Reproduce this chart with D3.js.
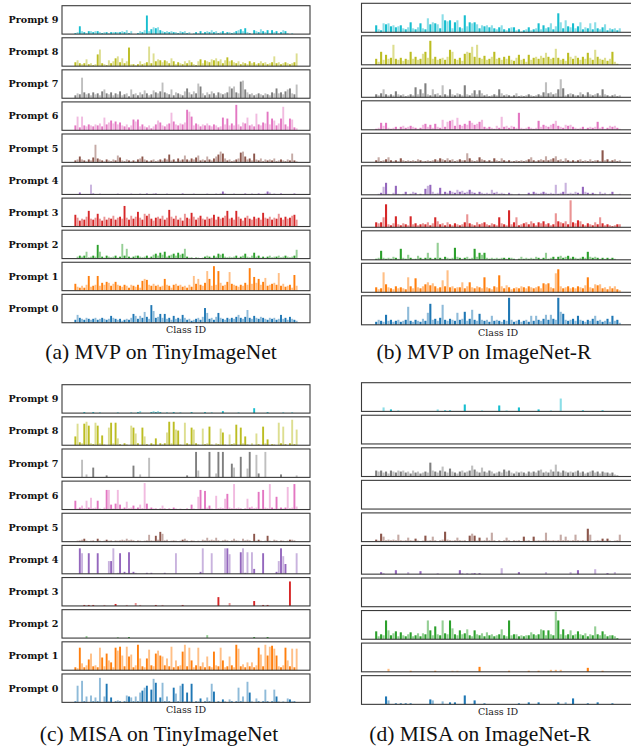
<!DOCTYPE html>
<html>
<head>
<meta charset="utf-8">
<script src="https://cdn.jsdelivr.net/npm/d3@7"></script>
<style>
  body { margin: 0; background: #fff; }
</style>
</head>
<body>
<div id="chart"></div>
<script>
// number of class bins per row
const N = 100;
const prompts = d3.range(10);

function sparse(pairs) {
    const v = new Array(N).fill(0);
    pairs.forEach(([i, h]) => { v[i] = h; });
    return v;
}

// (a) MVP on TinyImageNet, one array per prompt
const a0 = [3,8,5,4,3,5,4,3,4,5, 3,4,5,4,3,4,7,5,4,3, 4,2,3,4,3,5,9,7,4,7, 5,11,6,4,18,12,5,6,9,5, 9,4,5,3,7,4,5,4,8,5, 3,4,2,3,4,5,3,6,15,10, 4,5,3,6,10,5,4,3,5,4, 5,4,6,8,5,4,6,13,5,4, 7,5,4,6,5,4,3,5,4,5, 3,4,8,4,5,3,6,4,3,2];
const a1 = [7,4,3,5,3,6,15,4,5,6, 15,5,8,6,9,8,5,7,9,6, 5,4,6,5,3,6,5,4,6,3, 10,12,11,6,5,7,5,6,4,5, 12,6,5,3,6,7,5,6,4,5, 3,6,4,15,7,12,6,5,8,20, 12,5,25,6,20,8,5,6,9,19, 7,6,5,4,6,5,8,6,23,7, 14,8,12,6,9,13,5,6,7,8, 6,18,5,7,4,5,6,3,16,5];
const a2 = [0,2,3,2,3,7,1,2,3,2, 14,7,2,1,3,2,1,2,3,1, 2,15,3,10,2,1,2,3,3,2, 1,2,3,1,2,4,5,3,6,4, 7,2,3,4,5,3,6,4,5,10, 2,1,1,0,1,1,0,1,2,3, 2,1,3,2,5,4,5,2,1,2, 1,2,3,1,2,3,5,2,1,3, 6,2,3,1,2,1,2,3,1,2, 2,3,1,2,3,2,1,2,3,9];
const a3 = [12,9,6,8,7,10,16,8,7,9, 13,8,6,10,7,9,8,11,7,9, 10,8,21,9,7,11,8,10,15,9, 7,13,11,13,8,6,9,10,8,11, 7,9,17,10,8,11,7,9,6,13, 9,8,14,10,7,9,11,8,7,10, 8,9,12,7,10,8,9,11,16,8, 9,7,16,10,8,6,9,11,8,7, 10,8,9,7,14,9,8,10,7,9, 8,13,9,7,10,8,9,11,12,7];
const a4 = sparse([[2,2],[7,10],[8,1],[11,1],[19,1],[25,1],[29,1],[32,1],[35,1],[36,1],[41,1],[48,1],[53,1],[59,1],[63,1],[65,1],[66,3],[67,1],[71,1],[76,1],[79,1],[82,1],[85,1],[86,3],[87,2],[89,1],[92,1],[98,1]]);
const a5 = [2,3,6,3,2,1,3,2,5,18, 4,3,2,1,3,2,1,3,2,7, 5,2,1,3,2,1,2,1,3,4, 6,3,2,1,2,3,1,2,3,2, 4,3,8,2,3,1,4,2,3,7, 3,2,4,3,5,7,2,3,2,6, 3,2,4,6,8,11,9,4,2,3, 1,2,3,4,10,11,6,3,4,2, 9,3,2,4,1,3,2,3,2,4, 1,2,3,2,1,3,2,9,2,1];
const a6 = [5,14,3,14,5,4,6,5,4,6, 5,7,4,13,6,8,10,7,9,6, 8,5,4,6,3,5,11,9,11,4, 6,4,3,5,2,4,6,10,8,5, 4,6,7,18,9,6,5,7,6,8, 21,19,14,5,7,6,4,6,5,7, 5,4,6,5,3,4,13,6,12,5, 7,5,26,6,4,8,7,13,5,6, 4,17,6,5,8,7,19,6,12,10, 5,7,12,24,6,4,12,11,3,2];
const a7 = [3,5,4,21,6,4,5,3,6,4, 5,3,7,9,5,4,6,3,5,4, 7,3,4,5,2,9,4,5,3,6, 4,8,5,3,4,8,6,5,7,16, 6,5,4,9,3,6,5,4,3,7, 10,6,4,7,5,15,12,5,3,6, 4,7,5,3,6,5,4,5,6,12, 10,12,6,5,17,18,9,6,4,5, 3,4,5,4,3,5,4,3,6,5, 10,5,6,4,7,9,10,5,4,14];
const a8 = [4,6,3,2,3,7,2,3,1,2, 12,17,3,2,1,6,3,5,8,10, 4,8,3,5,19,2,2,1,2,5, 2,3,4,20,3,13,5,7,6,4, 6,5,3,8,5,2,4,3,2,5, 3,6,4,2,1,5,7,3,6,5, 4,7,6,8,5,7,3,6,9,5, 6,4,3,5,2,4,3,2,5,3, 4,2,3,5,3,4,2,3,4,10, 3,4,2,3,4,3,2,3,4,13];
const a9 = [1,2,8,3,2,1,3,3,2,3, 3,2,1,2,2,1,2,2,2,2, 2,3,2,4,1,3,0,0,1,3, 2,4,19,3,5,7,6,7,4,3, 2,3,2,3,2,2,1,3,2,3, 1,2,0,1,2,1,3,1,2,3, 2,4,2,3,1,2,3,1,2,2, 1,2,3,4,5,3,6,2,1,0, 4,3,2,5,3,2,4,1,4,2, 3,1,2,4,3,1,0,1,0,0];

// (b) MVP on ImageNet-R
const b0 = [3,5,4,3,10,4,5,3,4,5, 3,4,5,18,4,3,5,4,3,6, 4,12,21,5,6,4,7,20,5,4, 6,5,4,12,5,6,13,4,6,15, 5,4,11,5,4,5,3,9,4,5, 4,3,5,4,27,5,3,4,5,3, 4,5,3,9,4,9,5,4,6,10, 5,10,6,5,27,13,11,5,4,5, 6,4,9,5,4,3,5,4,6,9, 4,5,3,4,6,3,9,4,5,2];
const b1 = [5,3,4,20,8,5,4,3,6,4, 5,4,3,15,6,4,14,5,4,6, 8,10,7,9,6,4,5,12,6,22, 5,6,4,5,5,10,4,6,10,5, 4,6,5,4,15,5,4,3,6,5, 17,6,4,7,5,3,4,5,4,6, 5,4,6,5,4,5,6,4,9,8, 9,5,4,19,23,6,4,5,6,4, 5,4,6,5,4,7,15,5,4,8, 7,8,4,5,3,6,4,6,3,2];
const b2 = [1,2,9,2,1,2,1,3,2,1, 11,2,1,5,2,1,1,4,2,1, 2,7,2,1,2,17,2,1,3,2, 1,2,12,3,2,1,2,3,1,2, 11,3,7,5,7,2,1,2,1,2, 1,2,2,1,2,2,1,0,1,3, 1,2,1,2,1,3,2,1,2,7, 1,2,3,1,3,4,2,3,4,2, 3,2,1,2,3,2,8,3,2,3, 2,1,2,1,2,1,2,1,0,0];
const b3 = [5,4,5,10,23,3,2,4,11,3, 2,4,3,2,11,3,4,2,3,4, 3,5,2,4,10,6,3,4,2,5, 3,2,4,3,2,3,5,13,4,3, 2,5,3,4,5,3,2,4,3,2, 10,4,3,2,17,3,5,10,2,3, 4,5,3,6,4,2,5,4,6,3, 4,2,3,14,6,5,4,6,3,27, 5,4,7,6,3,2,4,3,2,5, 3,10,4,2,3,2,1,2,3,3];
const b4 = [0,1,2,8,12,1,0,2,9,1, 0,1,3,0,1,3,2,0,1,0, 6,9,10,3,1,2,7,1,3,2, 4,3,2,5,3,4,2,3,5,3, 2,1,3,2,1,2,1,5,2,3, 1,2,1,0,2,1,0,0,1,0, 0,0,2,1,3,2,1,2,3,2, 1,2,1,10,1,2,3,12,1,2, 1,3,2,1,8,3,2,1,2,1, 0,3,1,2,0,1,3,0,0,1];
const b5 = [2,5,1,2,3,5,2,1,2,1, 4,2,1,2,1,2,1,3,2,1, 1,2,1,2,3,2,4,3,2,4, 2,3,1,2,3,2,2,9,4,2, 1,2,5,3,2,1,2,1,4,2, 1,4,2,1,2,1,1,2,1,2, 1,2,3,5,2,1,2,3,2,6, 2,3,4,6,2,3,1,4,2,1, 2,1,2,3,1,2,1,3,1,2, 2,1,12,2,3,1,2,3,1,2];
const b6 = [1,2,7,4,7,2,1,2,3,1, 3,4,2,3,4,3,2,1,2,5, 6,3,5,2,6,3,2,10,3,8, 9,10,4,12,5,4,6,5,9,7, 5,6,8,10,3,2,3,2,1,4, 2,13,3,4,2,4,3,2,17,2, 1,2,3,2,1,2,9,3,5,4, 3,5,6,9,4,3,2,5,4,5, 3,2,1,2,3,1,2,3,2,3, 8,2,3,1,2,4,3,4,2,1];
const b7 = [3,2,4,8,3,2,3,2,6,3, 2,3,1,2,3,2,10,3,8,4, 14,3,2,8,3,4,2,12,3,2, 8,3,2,4,3,2,12,3,2,4, 7,3,7,4,2,3,1,2,3,2, 8,4,2,3,2,1,2,4,1,2, 1,2,3,2,1,2,3,2,5,15, 4,5,3,4,8,18,9,2,3,4, 3,2,2,5,3,2,5,3,2,3, 4,2,8,3,2,1,2,3,1,2];
const b8 = [6,3,13,5,10,6,7,20,6,5, 7,4,6,5,13,6,8,5,6,11, 13,7,24,6,8,5,6,7,5,8, 15,13,6,5,7,4,11,13,12,18, 8,20,7,6,9,5,6,8,13,6, 7,5,8,6,9,5,4,7,10,5, 6,3,10,5,7,8,6,9,7,12, 8,6,7,16,7,5,6,4,12,8, 6,9,7,5,8,6,12,7,5,15, 8,6,5,7,4,6,13,3,1,0];
const b9 = [7,3,2,9,8,9,6,7,5,6, 7,4,3,5,10,4,3,5,9,4, 3,14,8,10,9,8,4,18,12,11, 12,4,10,12,5,4,17,6,10,9, 10,8,4,7,6,7,5,7,4,3, 5,7,3,2,4,5,5,2,3,1, 2,3,5,2,3,4,9,3,7,4, 5,9,3,6,19,10,4,12,6,5, 9,4,6,10,3,5,4,9,3,10, 4,3,5,8,2,4,3,4,2,4];

// (c) MISA on TinyImageNet
const c0 = [1,17,0,22,1,6,0,7,1,5, 1,25,0,6,19,1,5,0,1,2, 1,0,1,7,6,5,1,6,1,10, 12,15,17,1,13,24,20,1,5,20, 1,6,1,0,15,9,1,17,19,1, 10,1,19,0,1,1,4,0,1,5, 1,19,11,0,1,0,3,1,0,3, 1,0,1,15,1,6,0,21,10,1, 0,4,1,0,1,13,1,0,1,13, 6,1,0,1,0,4,3,1,1,0];
const c1 = [3,2,23,7,3,5,11,17,4,5, 3,23,13,4,17,10,8,3,23,20, 24,15,4,24,14,16,3,5,26,12, 4,3,12,21,5,4,17,20,15,14, 5,12,4,24,3,10,4,5,19,26, 4,23,10,3,5,23,4,8,3,14, 4,3,19,5,4,23,10,3,4,14, 5,3,26,22,4,6,3,8,4,8, 3,5,23,16,4,26,15,24,25,22, 15,4,3,5,23,10,4,22,3,22];
const c2 = sparse([[5,2],[19,1],[24,1],[59,3],[80,1],[86,1]]);
const c3 = sparse([[4,1],[6,1],[8,1],[13,1],[18,2],[23,1],[27,3],[29,1],[36,1],[39,1],[48,1],[64,9],[69,3],[80,5],[84,1],[86,1],[96,25]]);
const c4 = [0,0,26,21,0,0,21,0,0,0, 21,0,0,0,0,13,13,26,0,1, 21,1,2,1,22,1,2,1,0,0, 0,0,1,0,1,0,0,0,0,0, 1,0,0,0,0,21,0,0,0,0, 0,0,0,0,0,0,2,26,0,0, 0,21,0,0,0,0,0,26,26,20, 0,0,0,0,22,26,1,22,0,22, 5,0,0,0,21,0,0,0,0,0, 2,13,26,18,10,0,0,0,0,21];
const c5 = [0,1,1,2,3,1,0,1,1,0, 3,1,0,1,2,1,1,0,1,1, 1,2,1,3,1,2,1,0,1,1, 0,1,1,7,1,1,6,2,10,8, 1,2,0,1,1,1,0,1,2,3, 1,0,1,1,0,1,0,2,1,4, 1,2,1,4,1,0,1,2,1,0, 1,3,1,1,0,3,1,2,1,0, 8,1,2,1,0,1,6,1,0,2, 1,0,1,1,0,1,2,2,1,0];
const c6 = [9,1,2,4,1,9,2,12,1,2, 9,1,0,2,20,20,5,1,6,20, 5,1,2,8,1,2,4,1,2,5, 1,27,6,1,2,1,1,0,1,4, 1,0,1,0,2,1,0,1,0,0, 1,0,5,1,0,13,20,1,19,2, 4,1,0,14,1,2,1,11,16,2, 1,26,1,2,1,0,1,11,2,3, 1,2,18,1,20,2,1,26,2,1, 13,1,2,1,2,23,1,2,26,3];
const c7 = [0,0,0,18,0,3,0,0,10,0, 0,0,0,0,2,0,0,0,0,0, 0,0,0,0,0,0,12,0,0,3, 0,0,0,20,0,0,0,0,0,0, 0,0,0,0,0,0,0,0,0,0, 2,0,0,0,26,7,0,0,0,0, 26,0,0,4,26,0,26,0,0,0, 14,10,0,0,21,0,0,9,26,0, 0,23,4,0,0,26,0,0,0,0, 0,0,3,0,0,0,0,0,0,2];
const c8 = [9,22,3,2,22,24,20,2,1,23, 20,2,10,1,0,18,23,2,23,7, 1,0,2,1,0,20,18,12,2,0, 18,9,1,0,2,1,7,0,2,1, 2,13,24,2,24,16,15,1,0,23, 2,1,18,16,2,1,0,17,1,2, 19,1,0,2,1,17,13,1,0,11, 1,2,21,0,18,2,9,1,0,2, 0,12,1,0,19,2,6,0,1,1, 0,23,2,19,1,0,2,26,1,16];
const c9 = sparse([[4,1],[8,1],[11,1],[19,1],[25,1],[28,1],[29,2],[34,1],[35,2],[36,1],[37,2],[38,1],[41,1],[44,1],[47,1],[52,1],[58,1],[61,1],[66,2],[73,1],[80,5],[86,1],[93,1],[97,1]]);

// (d) MISA on ImageNet-R
const r0 = sparse([[4,8],[5,4],[8,1],[10,1],[12,1],[14,1],[22,5],[23,4],[27,3],[30,2],[32,2],[36,9],[40,4],[44,1],[58,1],[62,2],[66,2],[74,2],[77,2],[80,6],[86,1],[90,2],[96,1]]);
const r1 = sparse([[5,3],[14,1],[24,1],[31,1],[33,1],[42,5],[54,1],[62,1],[66,1],[71,2],[73,2],[75,2],[86,4],[92,1]]);
const r2 = [8,3,5,4,19,9,4,6,8,3, 7,4,3,5,7,3,4,6,3,6, 5,19,9,4,13,5,4,19,6,5, 19,11,5,4,9,5,6,10,4,3, 9,5,4,6,3,7,4,5,3,4, 5,10,4,3,19,4,5,5,3,4, 3,4,4,7,5,4,5,10,9,4, 9,5,4,28,19,5,10,4,5,9, 4,5,8,5,4,6,3,5,4,13, 5,4,8,5,3,4,4,3,1,0];
const r3 = sparse([]);
const r4 = sparse([[2,2],[3,1],[8,4],[13,2],[18,3],[25,1],[34,4],[35,1],[37,1],[39,1],[40,1],[42,1],[51,6],[58,2],[69,2],[79,2],[82,4],[89,5],[94,1],[97,2]]);
const r5 = [2,1,8,5,1,2,1,2,1,7, 1,1,1,4,1,1,3,1,0,1, 6,1,1,5,1,0,1,2,10,2, 1,1,1,4,1,1,1,0,6,8, 6,1,4,1,1,4,1,9,1,0, 1,0,1,4,1,0,1,1,1,0, 5,1,1,0,5,1,1,1,1,9, 1,1,1,1,1,7,1,5,1,1, 1,7,1,1,1,1,13,7,0,1, 1,1,3,1,3,1,0,1,1,7];
const r6 = sparse([]);
const r7 = [6,5,6,4,5,3,6,5,4,6, 5,6,4,5,3,6,4,5,3,4, 5,4,14,6,5,4,6,10,5,4, 8,5,4,3,5,6,4,5,6,11, 7,5,4,9,5,4,6,5,3,4, 5,4,7,5,6,4,3,5,4,5, 4,3,5,4,5,4,6,7,4,5, 4,7,5,12,5,4,6,5,4,5, 4,5,6,4,5,3,4,5,6,4, 5,3,5,4,4,3,4,2,1,0];
const r8 = sparse([]);
const r9 = sparse([[3,4],[6,2],[9,1],[25,2],[28,1],[30,1],[36,7],[43,1],[50,6],[53,1],[58,4],[66,2],[71,1],[75,13],[84,1],[92,1]]);

const mvpTiny = [a0, a1, a2, a3, a4, a5, a6, a7, a8, a9];
const mvpImR = [b0, b1, b2, b3, b4, b5, b6, b7, b8, b9];
const misaTiny = [c0, c1, c2, c3, c4, c5, c6, c7, c8, c9];
const misaImR = [r0, r1, r2, r3, r4, r5, r6, r7, r8, r9];

const panels = [
    { data: mvpTiny, x0: 62, x1: 310, top: 5.7, pitch: 32.07, h: 28.4, labels: true,
      classY: 332.5, caption: "(a) MVP on TinyImageNet", capX: 161, capY: 359 },
    { data: mvpImR, x0: 361.5, x1: 634.5, top: 3.3, pitch: 32.5, h: 29, labels: false,
      classY: 335.5, caption: "(b) MVP on ImageNet-R", capX: 484, capY: 359 },
    { data: misaTiny, x0: 62, x1: 310, top: 384.7, pitch: 32.14, h: 28.4, labels: true,
      classY: 712.5, caption: "(c) MISA on TinyImageNet", capX: 159, capY: 741 },
    { data: misaImR, x0: 361.5, x1: 634.5, top: 382.7, pitch: 32.55, h: 28.7, labels: false,
      classY: 714.5, caption: "(d) MISA on ImageNet-R", capX: 480, capY: 741 }
];

const color = d3.scaleOrdinal(prompts, d3.schemeCategory10);

const svg = d3.select("#chart")
    .append("svg")
    .attr("width", 631)
    .attr("height", 746);

panels.forEach(panel => {
    const w = panel.x1 - panel.x0;
    const x = d3.scaleBand()
        .domain(d3.range(N))
        .range([panel.x0 + w * 0.05, panel.x1 - w * 0.05])
        .paddingInner(0.15);

    // rows from prompt 9 (top) down to prompt 0
    prompts.slice().reverse().forEach((p, k) => {
        const y0 = panel.top + k * panel.pitch;
        const y = d3.scaleLinear().domain([0, 29]).range([y0 + panel.h, y0]);
        const g = svg.append("g");

        g.selectAll("rect.bar")
            .data(panel.data[p])
            .enter()
            .append("rect")
            .attr("class", "bar")
            .attr("x", (d, i) => x(i))
            .attr("width", x.bandwidth())
            .attr("y", d => y(d))
            .attr("height", d => y(0) - y(d))
            .attr("fill", color(p))
            .attr("fill-opacity", (d, i) => (i % 2 === 0 ? 1 : 0.5));

        g.append("rect")
            .attr("x", panel.x0)
            .attr("y", y0)
            .attr("width", w)
            .attr("height", panel.h)
            .attr("fill", "none")
            .attr("stroke", "#3a3a3a")
            .attr("stroke-width", 1.1);

        if (panel.labels) {
            g.append("text")
                .attr("x", 58.5)
                .attr("y", y0 + panel.h / 2)
                .attr("dy", "0.35em")
                .attr("text-anchor", "end")
                .style("font-family", "'DejaVu Serif', serif")
                .style("font-weight", "bold")
                .style("font-size", "9.6px")
                .style("fill", "#111")
                .text("Prompt " + p);
        }
    });

    svg.append("text")
        .attr("x", (panel.x0 + panel.x1) / 2)
        .attr("y", panel.classY)
        .attr("text-anchor", "middle")
        .style("font-family", "'DejaVu Serif', serif")
        .style("font-size", "9.5px")
        .style("fill", "#222")
        .text("Class ID");

    svg.append("text")
        .attr("x", panel.capX)
        .attr("y", panel.capY)
        .attr("text-anchor", "middle")
        .style("font-family", "'Liberation Serif', 'Times New Roman', serif")
        .style("font-size", "21.5px")
        .style("fill", "#111")
        .text(panel.caption);
});
</script>
</body>
</html>
